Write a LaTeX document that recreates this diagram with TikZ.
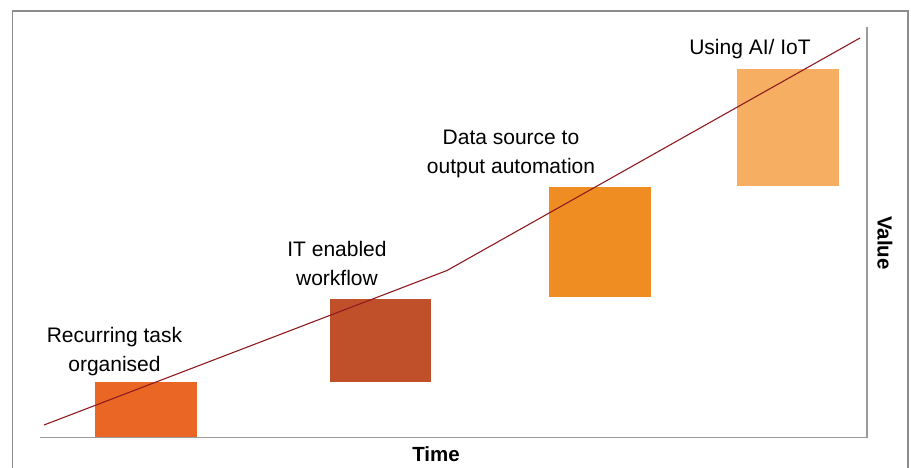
\documentclass[tikz,border=0pt]{standalone}
\usepackage{fontspec}
\setmainfont{Liberation Sans}
\definecolor{frameg}{HTML}{8C8C8C}
\definecolor{axisg}{HTML}{9A9A9A}
\definecolor{trend}{HTML}{8E1B1F}
\definecolor{cA}{HTML}{EA6624}
\definecolor{cB}{HTML}{C0502A}
\definecolor{cC}{HTML}{F08D22}
\definecolor{cD}{HTML}{F5AE62}
\begin{document}
\begin{tikzpicture}[x=1pt,y=-1pt,
  bar/.style={draw=none},
  lbl/.style={align=center,font=\fontsize{21}{29}\selectfont,inner sep=0pt,anchor=base},
  axlbl/.style={font=\fontsize{20.5}{24}\selectfont\bfseries,inner sep=0pt}]
\useasboundingbox (0,0) rectangle (911,468);
% outer frame
\draw[frameg,line width=1.3pt] (12.5,468) -- (12.5,11) -- (908,11) -- (908,468);
% axes
\coordinate (o) at (40,437.5);
\coordinate (xe) at (867,437.5);
\coordinate (ye) at (867,27);
\draw[axisg,line width=1.3pt] (o) -- (xe) -- (ye);
% bars
\fill[cA] (95,382) rectangle (197,437);
\fill[cB] (330,299) rectangle (431,382);
\fill[cC] (549,187) rectangle (651,297);
\fill[cD] (737,69) rectangle (839,186);
% trend line
\coordinate (t0) at (44,425);
\coordinate (t1) at (447,270.5);
\coordinate (t2) at (860,38);
\draw[trend,line width=1.1pt] (t0) -- (t1) -- (t2);
% labels (base = last line baseline)
\node[lbl] (l1) at (114.5,371) {Recurring task\\organised};
\node[lbl] (l2) at (337,285) {IT enabled\\workflow};
\node[lbl] (l3) at (511,173.5) {Data source to\\output automation};
\node[lbl] (l4) at (750,55) {Using AI/ IoT};
\node[axlbl,anchor=base] (tm) at (436,461) {Time};
\node[axlbl,rotate=-90] (vl) at (885,243) {Value};
\end{tikzpicture}
\end{document}
